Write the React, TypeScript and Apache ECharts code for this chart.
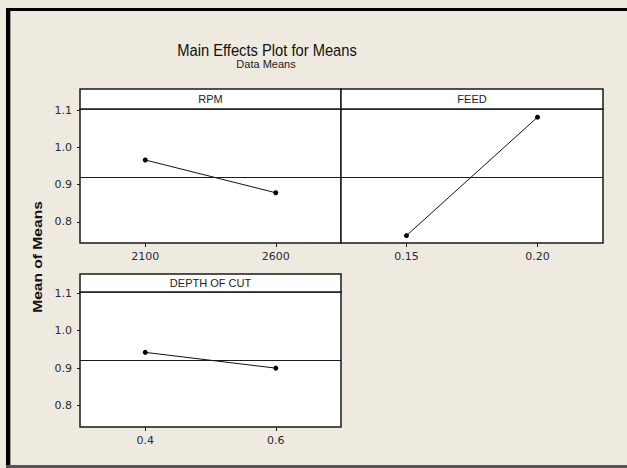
import React, { useEffect, useRef } from "react";
import * as echarts from "echarts";

// ---- data ----
const rpmLevels = [2100, 2600];
const rpmMeans = [0.966, 0.878];
const feedLevels = [0.15, 0.2];
const feedMeans = [0.763, 1.081];
const docLevels = [0.4, 0.6];
const docMeans = [0.942, 0.9];
const grandMean = 0.922;
const yTicks = [0.8, 0.9, 1.0, 1.1];
const panelNames = ["RPM", "FEED", "DEPTH OF CUT"];
const titleText = "Main Effects Plot for Means";
const subtitleText = "Data Means";
const yTitle = "Mean of Means";

const BG = "#EEEAE0";
const INK = "#1a1a1a";
const LABEL = "#2a2a36";

function pairs(xs: number[], ys: number[]) {
  return xs.map((x, i) => [x, ys[i]]);
}

export default function App() {
  const ref = useRef<HTMLDivElement>(null);
  useEffect(() => {
    document.body.style.margin = "0";
    document.body.style.overflow = "hidden";
    if (!ref.current) return;
    const chart = echarts.init(ref.current, null, { renderer: "svg" });

    const grids = [
      { left: 80, top: 109, width: 261, height: 134 },
      { left: 341, top: 109, width: 262, height: 134 },
      { left: 80, top: 292, width: 261, height: 135 },
    ].map((g) => ({
      ...g,
      show: true,
      backgroundColor: "#ffffff",
      borderColor: INK,
      borderWidth: 1.5,
    }));

    const xDefs = [
      { min: 1850, max: 2850, ticks: rpmLevels, fmt: (v: number) => String(v) },
      { min: 0.125, max: 0.225, ticks: feedLevels, fmt: (v: number) => v.toFixed(2) },
      { min: 0.3, max: 0.7, ticks: docLevels, fmt: (v: number) => v.toFixed(1) },
    ];

    const xAxis = xDefs.map((d, i) => ({
      type: "value",
      gridIndex: i,
      min: d.min,
      max: d.max,
      axisLine: { show: false },
      splitLine: { show: false },
      axisTick: {
        show: true,
        inside: false,
        length: 4,
        customValues: d.ticks,
        lineStyle: { color: INK, width: 1 },
      },
      axisLabel: {
        show: true,
        customValues: d.ticks,
        formatter: d.fmt,
        margin: 8,
        color: LABEL,
        fontSize: 11,
        fontFamily: "DejaVu Sans",
      },
    }));

    const yAxis = [0, 1, 2].map((i) => ({
      type: "value",
      gridIndex: i,
      min: 0.743,
      max: 1.103,
      axisLine: { show: false },
      splitLine: { show: false },
      axisTick: {
        show: i !== 1,
        inside: false,
        length: 3,
        customValues: yTicks,
        lineStyle: { color: INK, width: 1 },
      },
      axisLabel: {
        show: i !== 1,
        customValues: yTicks,
        formatter: (v: number) => v.toFixed(1),
        margin: 8,
        color: LABEL,
        fontSize: 11,
        fontFamily: "DejaVu Sans",
      },
    }));

    const dataSets = [
      pairs(rpmLevels, rpmMeans),
      pairs(feedLevels, feedMeans),
      pairs(docLevels, docMeans),
    ];

    const series = dataSets.map((data, i) => ({
      type: "line",
      xAxisIndex: i,
      yAxisIndex: i,
      data,
      symbol: "circle",
      symbolSize: 5,
      itemStyle: { color: "#000" },
      lineStyle: { color: "#111", width: 1 },
      markLine: {
        silent: true,
        symbol: "none",
        label: { show: false },
        lineStyle: { color: INK, width: 1, type: "solid" },
        data: [{ yAxis: grandMean }],
      },
    }));

    const strips = [
      { x: 80, y: 89, w: 261, h: 20 },
      { x: 341, y: 89, w: 262, h: 20 },
      { x: 80, y: 274, w: 261, h: 18 },
    ];

    const graphic: any[] = [
      // outer frame: top, left and bottom edges only
      {
        type: "rect",
        silent: true,
        shape: { x: 6, y: 8, width: 640, height: 3 },
        style: { fill: "#000" },
      },
      {
        type: "rect",
        silent: true,
        shape: { x: 6, y: 8, width: 4, height: 460 },
        style: { fill: "#000" },
      },
      {
        type: "rect",
        silent: true,
        shape: { x: 10, y: 11, width: 1, height: 455 },
        style: { fill: "#9a9890" },
      },
      {
        type: "rect",
        silent: true,
        shape: { x: 6, y: 465, width: 640, height: 3 },
        style: { fill: "#555" },
      },
      {
        type: "text",
        x: 267,
        y: 50,
        style: {
          text: titleText,
          fontSize: 16,
          fontFamily: "Liberation Sans",
          fill: "#111",
          align: "center",
          verticalAlign: "middle",
          textAlign: "center",
          textVerticalAlign: "middle",
        },
        scaleX: 0.92,
      },
      {
        type: "text",
        x: 266,
        y: 64,
        style: {
          text: subtitleText,
          fontSize: 11,
          fontFamily: "Liberation Sans",
          fill: "#222",
          align: "center",
          verticalAlign: "middle",
          textAlign: "center",
          textVerticalAlign: "middle",
        },
      },
      {
        type: "text",
        x: 37,
        y: 257,
        rotation: Math.PI / 2,
        scaleX: 1.2,
        style: {
          text: yTitle,
          fontSize: 13,
          fontWeight: "bold",
          fontFamily: "Liberation Sans",
          fill: "#111",
          align: "center",
          verticalAlign: "middle",
          textAlign: "center",
          textVerticalAlign: "middle",
        },
      },
    ];

    strips.forEach((s, i) => {
      graphic.push({
        type: "rect",
        silent: true,
        shape: { x: s.x, y: s.y, width: s.w, height: s.h },
        style: { fill: "#ffffff", stroke: INK, lineWidth: 1.5 },
      });
      graphic.push({
        type: "text",
        x: s.x + s.w / 2,
        y: s.y + s.h / 2,
        style: {
          text: panelNames[i],
          fontSize: 11,
          fontFamily: "Liberation Sans",
          fill: "#222",
          align: "center",
          verticalAlign: "middle",
          textAlign: "center",
          textVerticalAlign: "middle",
        },
      });
    });

    chart.setOption({
      animation: false,
      backgroundColor: BG,
      grid: grids,
      xAxis,
      yAxis,
      series,
      graphic,
    } as any);

    return () => chart.dispose();
  }, []);

  return (
    <div
      ref={ref}
      style={{ position: "fixed", left: 0, top: 0, width: 627, height: 468 }}
    />
  );
}
